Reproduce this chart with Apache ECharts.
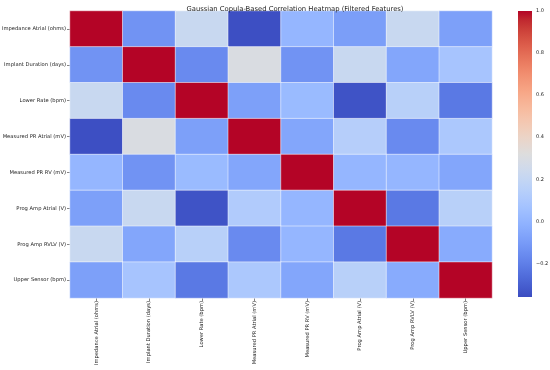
<!DOCTYPE html>
<html><head><meta charset="utf-8">
<script src="https://cdn.jsdelivr.net/npm/echarts@6/dist/echarts.min.js"></script>
<style>html,body{margin:0;padding:0;background:#fff}#c{width:550px;height:370px}</style>
</head><body><div id="c"></div>
<script>
const features = ["Impedance Atrial (ohms)","Implant Duration (days)","Lower Rate (bpm)","Measured PR Atrial (mV)","Measured PR RV (mV)","Prog Amp Atrial (V)","Prog Amp RVLV (V)","Upper Sensor (bpm)"];
const rowImpedanceAtrial   = [1.00, -0.13, 0.22, -0.35, 0.01, -0.09, 0.22, -0.08];
const rowImplantDuration   = [-0.13, 1.00, -0.16, 0.30, -0.13, 0.22, -0.06, 0.08];
const rowLowerRate         = [0.22, -0.16, 1.00, -0.08, 0.03, -0.34, 0.15, -0.22];
const rowMeasuredPRAtrial  = [-0.35, 0.30, -0.08, 1.00, -0.06, 0.14, -0.16, 0.10];
const rowMeasuredPRRV      = [0.01, -0.13, 0.03, -0.06, 1.00, 0.01, 0.01, -0.06];
const rowProgAmpAtrial     = [-0.08, 0.22, -0.34, 0.12, 0.01, 1.00, -0.22, 0.15];
const rowProgAmpRVLV       = [0.22, -0.06, 0.15, -0.16, 0.01, -0.22, 1.00, -0.04];
const rowUpperSensor       = [-0.08, 0.08, -0.22, 0.10, -0.06, 0.15, -0.04, 1.00];
const colorbarTicks = [-0.2, 0.0, 0.2, 0.4, 0.6, 0.8, 1.0];
const vMin = -0.36, vMax = 1.0;

const rows = [rowImpedanceAtrial,rowImplantDuration,rowLowerRate,rowMeasuredPRAtrial,rowMeasuredPRRV,rowProgAmpAtrial,rowProgAmpRVLV,rowUpperSensor];
const cells = [];
rows.forEach((r,i)=>r.forEach((v,j)=>cells.push([j,i,v])));

const coolwarm = [[59,76,192],[68,90,204],[77,104,215],[87,117,225],[98,130,234],[108,142,241],[119,154,247],[130,165,251],[141,176,254],[152,185,255],[163,194,255],[174,201,253],[184,208,249],[194,213,244],[204,217,238],[213,219,230],[221,221,221],[229,216,209],[236,211,197],[241,204,184],[245,196,172],[247,187,159],[247,177,147],[247,166,134],[244,154,123],[241,141,111],[236,127,99],[229,112,88],[222,96,77],[213,80,66],[203,62,56],[192,40,47],[180,4,38]].map(c=>'rgb('+c.join(',')+')');

const FONT = 'DejaVu Sans';
const chart = echarts.init(document.getElementById('c'));
chart.setOption({
  animation:false,
  backgroundColor:'#fff',
  textStyle:{fontFamily:FONT},
  title:{text:'Gaussian Copula-Based Correlation Heatmap (Filtered Features)',left:290,textAlign:'center',top:1,
    textStyle:{fontFamily:FONT,fontSize:6.8,fontWeight:'normal',color:'#222'}},
  grid:[{left:70,top:11,width:422,height:287,outerBoundsMode:'none'},{left:518,top:11,width:14,height:286,outerBoundsMode:'none'}],
  xAxis:[
    {type:'category',data:features,gridIndex:0,axisLine:{show:false},
     axisTick:{show:true,alignWithLabel:true,length:3,lineStyle:{color:'#333',width:0.6}},
     axisLabel:{rotate:90,fontSize:5.2,color:'#222',margin:3,fontFamily:FONT,interval:0,overflow:'none',width:300,hideOverlap:false},splitLine:{show:false}},
    {type:'value',gridIndex:1,show:false,min:0,max:1}
  ],
  yAxis:[
    {type:'category',data:features,inverse:true,gridIndex:0,axisLine:{show:false},
     axisTick:{show:true,alignWithLabel:true,length:3,lineStyle:{color:'#333',width:0.6}},
     axisLabel:{fontSize:5.2,color:'#222',margin:4,fontFamily:FONT,interval:0},splitLine:{show:false}},
    {type:'value',gridIndex:1,position:'right',min:vMin,max:vMax,
     axisLine:{show:false},splitLine:{show:false},
     axisTick:{show:true,length:2,customValues:colorbarTicks,lineStyle:{color:'#333',width:0.6}},
     axisLabel:{fontSize:5,color:'#222',margin:4,fontFamily:FONT,customValues:colorbarTicks,
       formatter:v=>(v<0?'\u2212':'')+Math.abs(v).toFixed(1)}}
  ],
  visualMap:{type:'continuous',show:false,min:vMin,max:vMax,seriesIndex:0,dimension:2,inRange:{color:coolwarm}},
  series:[
    {type:'heatmap',xAxisIndex:0,yAxisIndex:0,data:cells,
     itemStyle:{borderColor:'#ffffff',borderWidth:0.5},emphasis:{disabled:true}},
    {type:'line',xAxisIndex:1,yAxisIndex:1,data:[],silent:true,
     markArea:{silent:true,itemStyle:{color:{type:'linear',x:0,y:1,x2:0,y2:0,colorStops:coolwarm.map((c,k)=>({offset:k/(coolwarm.length-1),color:c}))}},
       data:[[{yAxis:vMin},{yAxis:vMax}]]}}
  ]
});
</script></body></html>
